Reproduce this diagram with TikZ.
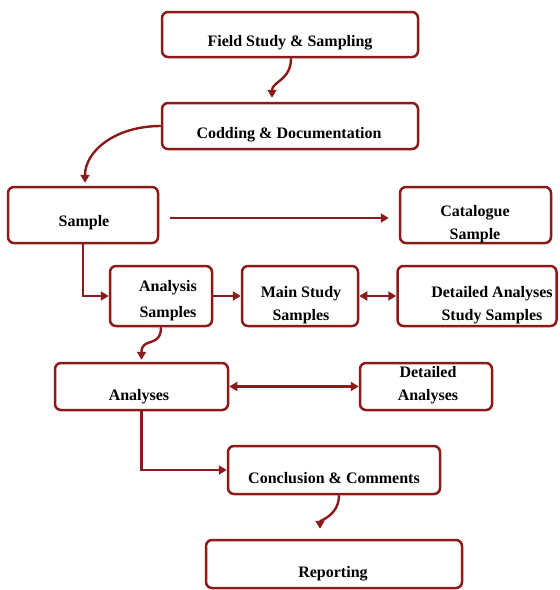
\documentclass[tikz,border=0pt]{standalone}
\usepackage{fontspec}
\setmainfont{Liberation Serif}
\usetikzlibrary{arrows.meta}

\definecolor{maroon}{RGB}{139,26,26}

\tikzset{
  stage/.style={draw=maroon, line width=2.5pt, rounded corners=6pt, fill=white, inner sep=0pt},
  caption/.style={font=\fontsize{16}{23}\selectfont\bfseries, anchor=base, inner sep=0pt, align=center},
  flow/.style={maroon, line width=2.4pt, -{Triangle[length=8pt,width=9pt]}},
  twoway/.style={maroon, line width=2.4pt, {Triangle[length=8pt,width=9pt]}-{Triangle[length=8pt,width=9pt]}}
}

\begin{document}
\begin{tikzpicture}[x=1pt,y=-1pt]

  \useasboundingbox (0,0) rectangle (560,590);

  % boxes
  \node[stage, minimum width=256pt, minimum height=45pt] (field) at (290,34.5) {};
  \node[stage, minimum width=256pt, minimum height=46pt] (codding) at (290,126) {};
  \node[stage, minimum width=150pt, minimum height=56pt] (sample) at (83,215) {};
  \node[stage, minimum width=151pt, minimum height=56pt] (catalogue) at (475.5,215) {};
  \node[stage, minimum width=102pt, minimum height=60pt] (anasamples) at (161,296) {};
  \node[stage, minimum width=116pt, minimum height=60pt] (mainstudy) at (300,296) {};
  \node[stage, minimum width=159pt, minimum height=60pt] (detstudy) at (477,296) {};
  \node[stage, minimum width=173pt, minimum height=47pt] (analyses) at (141.5,386.5) {};
  \node[stage, minimum width=132pt, minimum height=47pt] (detanalyses) at (426,386.5) {};
  \node[stage, minimum width=212pt, minimum height=48pt] (conclusion) at (334,470) {};
  \node[stage, minimum width=256pt, minimum height=48pt] (reporting) at (334,564) {};

  % texts (base = last line)
  \node[caption] (field-t) at (290,46) {Field Study \& Sampling};
  \node[caption] (codding-t) at (289,138) {Codding \& Documentation};
  \node[caption] (sample-t) at (84,226) {Sample};
  \node[caption] (catalogue-t) at (475,239) {Catalogue\\Sample};
  \node[caption, font=\fontsize{16}{26}\selectfont\bfseries] (anasamples-t) at (168,317) {Analysis\\Samples};
  \node[caption] (mainstudy-t) at (301,320) {Main Study\\Samples};
  \node[caption] (detstudy-t) at (492,320) {Detailed Analyses\\Study Samples};
  \node[caption] (analyses-t) at (139,400) {Analyses};
  \node[caption] (detanalyses-t) at (428,400) {Detailed\\Analyses};
  \node[caption] (conclusion-t) at (334,483) {Conclusion \& Comments};
  \node[caption] (reporting-t) at (333,577) {Reporting};

  % connectors
  \draw[flow, shorten >=4pt] ([xshift=1pt]field.south) .. controls +(0,22) and +(0,-20) .. ([xshift=-18pt]codding.north);
  \draw[flow, shorten >=3pt] (codding.west) .. controls +(-45,0) and +(0,-35) .. ([xshift=2pt]sample.north);
  \draw[flow, shorten <=11pt, shorten >=10pt] ([yshift=-3pt]sample.east) -- ([yshift=-3pt]catalogue.west);
  \draw[flow] (sample.south) |- (anasamples.west);
  \draw[flow] (anasamples.east) -- (mainstudy.west);
  \draw[twoway] (mainstudy.east) -- (detstudy.west);
  \draw[flow, shorten >=2pt] (anasamples.south) .. controls +(0,21) and +(0,-25) .. (analyses.north);
  \draw[twoway] (analyses.east) -- (detanalyses.west);
  \draw[flow] (analyses.south) |- (conclusion.west);
  \draw[flow, shorten >=10pt] ([xshift=5pt]conclusion.south) .. controls +(0,20) and +(0,-18) .. ([xshift=-14pt]reporting.north);
%  \draw[flow] (catalogue.south) -- (detstudy.north);

\end{tikzpicture}
\end{document}
